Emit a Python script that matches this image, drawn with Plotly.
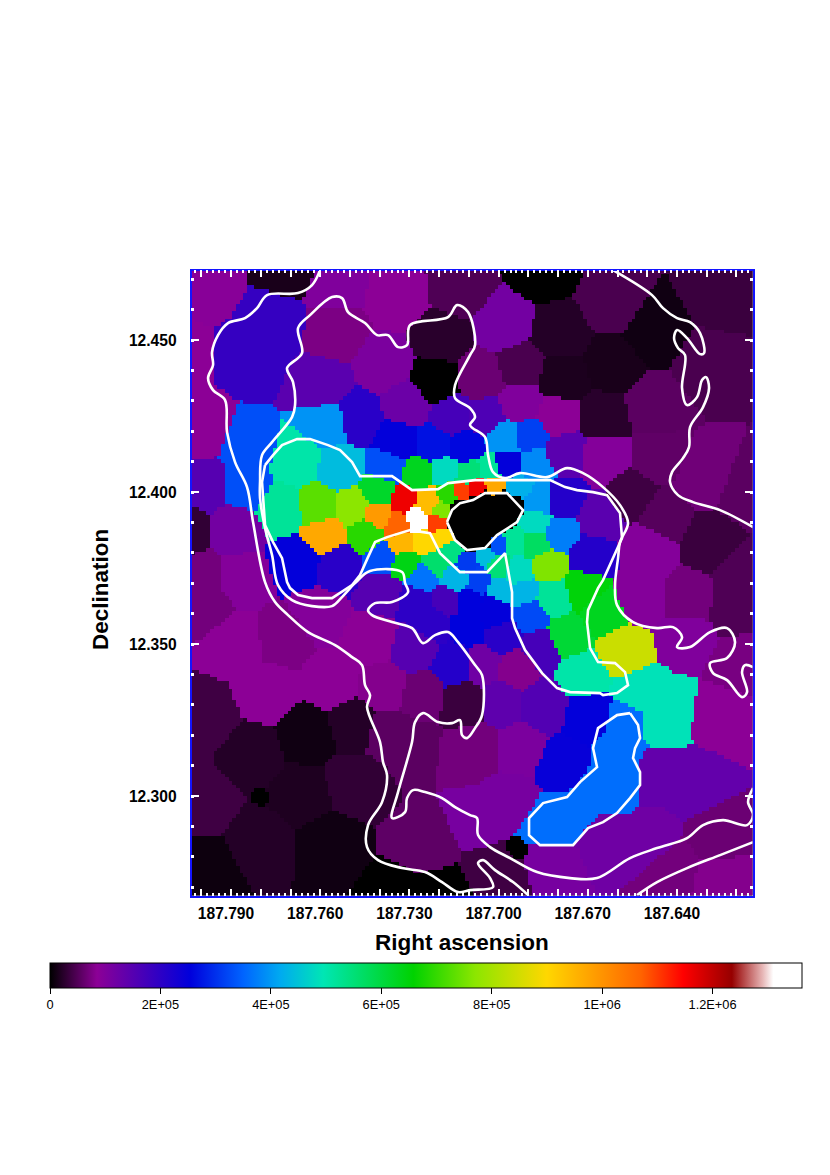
import numpy as np
import plotly.graph_objects as go

# World-coordinate solution of the map: sky = reference value + (map position - reference position) * scale
RA_REF, RA_REF_POS, RA_PER_UNIT = 187.79, 231.0, 1 / 2973.0
DEC_REF, DEC_REF_POS, DEC_PER_UNIT = 12.45, 340.0, 1 / 3040.0
RA_RANGE = [187.8033, 187.6146]
DEC_RANGE = [12.2673, 12.4729]
CELL = 3.7

# Binned cells: (map x, map y, flux)
cells_nw = [
    (205,280,9.0e4),(171,355,8.5e4),(200,432,8.5e4),(255,355,1.9e5),(275,322,1.9e5),(248,450,3.3e5),(245,485,3.3e5),(328,425,3.95e5),(290,268,1.5e4),
    (335,285,1.0e5),(398,298,8.5e4),(460,290,4.8e4),(335,332,7.5e4),(385,365,1.05e5),(322,385,1.45e5),
    (358,420,2.05e5),(408,405,1.25e5),(452,418,1.7e5),(435,382,0),(442,338,2.5e4),(398,442,2.5e5),
    (435,445,2.7e5),(465,448,2.6e5),(205,485,1.5e5),(185,530,3.0e4),(235,530,1.15e5),(202,578,7.0e4),(242,578,9.5e4),
]
cells_ne = [
    (503,325,1.15e5),(543,268,0),(560,335,2.2e4),(613,305,4.5e4),(653,332,1.0e4),(613,365,1.5e4),(563,378,1.7e4),
    (520,368,4.5e4),(603,418,2.5e4),(483,378,6.5e4),(520,405,1.0e5),(487,418,1.6e5),(557,418,8.5e4),(565,452,1.45e5),
    (603,458,9.5e4),(505,438,3.95e5),(530,435,3.15e5),(505,465,2.5e5),(533,465,3.85e5),(563,502,2.1e5),(598,518,1.45e5),
    (647,548,9.5e4),(633,495,3.8e4),(657,458,5.8e4),(653,408,5.5e4),(663,515,5.2e4),(703,478,6.8e4),(710,365,4.5e4),
    (723,295,3.5e4),(713,542,3.5e4),(747,495,5.5e4),(743,572,4.8e4),(640,598,9.5e4),(690,602,7.0e4),(733,608,4.8e4),
]
cells_core = [
    (298,462,5.05e5),(340,468,4.4e5),(283,508,5.2e5),(318,507,7.3e5),(353,508,7.7e5),(380,492,6.2e5),(325,535,9.7e5),
    (380,515,9.9e5),(367,535,6.9e5),(403,500,1.16e6),(398,525,1.07e6),(428,502,9.4e5),(418,520,1.33e6),(437,522,1.1e6),
    (448,495,6.9e5),(443,510,7.6e5),(463,492,1.1e6),(477,489,1.16e6),(495,487,9.7e5),(402,543,9.5e5),(425,542,9.0e5),
    (442,537,9.0e5),(452,552,5.4e5),(405,562,6.4e5),(437,563,5.6e5),(382,558,3.3e5),(298,562,2.5e5),(340,565,2.05e5),
    (388,468,3.3e5),(418,475,6.3e5),(445,472,4.8e5),(468,475,5.5e5),(492,470,5.2e5),
    (467,562,3.1e5),(487,557,4.4e5),(498,545,3.3e5),(497,566,5.5e5),(423,578,3.65e5),(455,578,4.3e5),(480,580,3.15e5),
    (500,590,4.35e5),(417,600,2.0e5),(445,600,1.7e5),(470,603,2.55e5),(493,607,2.5e5),
    (517,488,4.25e5),(538,502,4.0e5),(560,533,3.75e5),(590,555,2.1e5),(535,522,4.8e5),(535,543,5.7e5),(513,542,5.2e5),
    (547,565,7.6e5),(518,572,4.8e5),(583,590,6.5e5),(603,612,6.3e5),(567,635,6.1e5),(553,598,5.2e5),(523,592,4.3e5),
    (622,650,8.4e5),(583,675,5.05e5),
]
cells_nucleus = [
    (457,522,0),(461,510,0),(467,538,0),(485,539,0),(473,506,0),(486,499,0),(500,499,0),(512,505,0),(499,522,0),
    (490,528,0),(480,520,0),
]
cells_sw = [
    (205,605,7.0e4),(235,642,8.5e4),(285,638,7.5e4),(318,615,9.5e4),(268,692,8.5e4),(332,682,8.5e4),(372,638,8.5e4),
    (385,688,8.0e4),(422,695,6.5e4),(465,702,3.5e4),(415,648,1.5e5),(383,592,1.5e5),(432,622,2.0e5),(468,625,2.55e5),
    (455,665,2.1e5),(205,718,3.8e4),(202,800,3.8e4),(308,735,1.0e4),(252,755,2.2e4),(355,725,2.2e4),(302,795,1.8e4),
    (355,782,3.0e4),(262,842,2.2e4),(205,872,8.0e3),(328,845,1.0e4),(440,897,0),(400,897,0),(412,745,5.5e4),(425,845,5.7e4),
    (468,752,7.0e4),(388,732,5.5e4),
]
cells_se = [
    (495,615,2.5e5),(530,615,3.25e5),(503,635,2.05e5),(540,648,1.7e5),(483,665,1.2e5),(517,668,8.0e4),(500,702,1.4e5),
    (543,705,1.55e5),(477,748,7.0e4),(520,748,1.05e5),(510,800,1.1e5),(590,715,2.5e5),(563,765,2.45e5),
    (627,722,3.6e5),(622,745,3.6e5),(620,770,3.6e5),(600,792,3.6e5),(575,815,3.6e5),(553,832,3.6e5),(548,825,3.6e5),
    (640,695,4.9e5),(665,710,4.9e5),(660,722,4.9e5),(687,635,1.0e5),(723,718,8.5e4),
    (743,662,7.3e4),(660,770,1.35e5),(693,782,1.35e5),(603,838,1.2e5),(650,845,1.2e5),(553,858,1.1e5),(670,868,7.0e4),(720,838,6.5e4),(723,878,8.0e4),
    (497,872,3.8e4),(480,818,1.1e5),
]
# Compact cells: (map x, map y, flux, relative size)
cells_compact = [(261,797,0,0.25),(517,850,0,0.4)]

# Surface-brightness contours: map positions
contour_west = [
    (320,270),(312,285),(298,293),(267,295),(257,308),(245,318),(228,323),(218,335),(212,352),(213,365),(208,378),
    (213,390),(225,400),(227,432),(235,462),(247,487),(253,522),(265,582),(275,602),(288,615),(308,632),(335,645),
    (352,657),(362,665),(365,685),(370,695),(367,707),(380,742),(383,762),(387,775),(382,802),(368,825),(367,847),
    (378,860),(402,868),(425,872),(442,882),(458,892),(470,890),(493,887),(490,878),(478,863),(483,860),(495,870),
    (513,882),(528,895),
]
contour_long = [
    (753,788),(748,802),(753,815),(747,825),(723,820),(703,825),(687,838),(657,848),(630,858),(597,878),(570,878),
    (537,872),(510,858),(490,847),(478,835),(477,818),(470,815),(455,807),(442,798),(425,792),(413,790),(407,798),
    (405,812),(392,818),(398,792),(412,742),(415,722),(423,713),(438,722),(452,723),(460,720),(462,735),(467,738),
    (475,728),(482,715),(482,675),(475,665),(458,642),(448,632),(435,635),(423,643),(412,628),(392,622),(372,615),
    (368,610),(375,603),(392,602),(408,592),(405,583),(402,572),(370,571),(355,583),(342,597),(332,606),(312,606),
    (292,600),(278,585),(272,555),(265,528),(260,498),(260,482),(262,455),(272,442),(292,417),(295,405),(293,382),
    (287,368),(302,353),(298,328),(310,315),(332,297),(342,298),(348,312),(365,323),(377,335),(388,335),(398,347),
    (407,345),(410,325),(448,317),(457,305),(468,312),(475,345),(470,355),(455,385),(455,398),(470,408),(475,417),
    (470,425),(485,437),(488,455),(493,472),(505,478),(520,473),(547,477),(567,468),(583,473),(603,487),(620,505),
    (628,523),(620,542),(618,558),(615,585),(617,605),(633,622),(657,628),(673,627),(682,637),(677,647),(690,647),
    (710,632),(727,628),(735,642),(727,658),(710,663),(713,673),(727,680),(742,697),(747,692),(742,672),(745,665),(753,667),
]
contour_south = [(753,842),(720,855),(687,868),(657,882),(637,895)]
contour_east = [
    (613,270),(652,295),(663,308),(677,318),(690,322),(700,333),(704,353),(700,354),(687,338),(677,330),(674,338),
    (678,348),(685,355),(682,388),(687,405),(697,397),(702,380),(706,377),(709,388),(703,407),(690,427),(689,447),
    (683,458),(672,472),(670,482),(678,495),(693,502),(720,510),(753,527),
]
contour_core = [
    (265,465),(273,455),(282,445),(297,439),(310,439),(328,445),(340,450),(352,462),(360,476),(392,476),(412,490),
    (438,489),(448,483),(475,480),(550,480),(565,487),(577,490),(593,492),(607,495),(620,513),(622,538),(613,558),
    (603,580),(598,588),(588,610),(587,622),(590,648),(598,662),(615,663),(625,672),(628,685),(617,693),(603,695),
    (600,693),(570,692),(557,688),(542,673),(525,650),(515,628),(512,618),(512,592),(505,553),(487,572),(460,572),
    (440,553),(430,533),(410,530),(387,537),(375,542),(368,557),(360,575),(352,585),(332,598),(312,598),(298,595),
    (290,588),(287,582),(282,558),(273,542),(265,525),(263,498),(262,482),(265,465),
]
contour_nucleus = [
    (447,522),(452,510),(460,503),(473,500),(485,493),(507,493),(523,510),(517,522),(497,535),(485,548),(467,550),
    (455,540),(447,522),
]
contour_southblob = [
    (630,713),(638,725),(640,738),(635,748),(633,758),(640,772),(640,785),(630,798),(617,813),(603,822),(588,828),
    (573,845),(540,845),(529,835),(529,818),(543,803),(567,797),(580,782),(597,767),(593,748),(598,728),(617,715),(630,713),
]

# Axes and colour bar
ra_major = [187.80, 187.79, 187.78, 187.77, 187.76, 187.75, 187.74, 187.73, 187.72, 187.71, 187.70,
            187.69, 187.68, 187.67, 187.66, 187.65, 187.64, 187.63, 187.62]
ra_labels = ["", "187.790", "", "", "187.760", "", "", "187.730", "", "", "187.700",
             "", "", "187.670", "", "", "187.640", "", ""]
dec_major = [12.30, 12.35, 12.40, 12.45]
dec_labels = ["12.300", "12.350", "12.400", "12.450"]
bar_ticks = [0, 2e5, 4e5, 6e5, 8e5, 1e6, 1.2e6]
bar_labels = ["0", "2E+05", "4E+05", "6E+05", "8E+05", "1E+06", "1.2E+06"]
FLUX_MAX = 1.362e6
colour_stops = [
    (0, "#000000"), (8.5e4, "#8c0096"), (2.54e5, "#0000dc"), (3.5e5, "#0064ff"), (4.17e5, "#00aaf0"),
    (4.95e5, "#00e6b4"), (6.58e5, "#00d200"), (7.7e5, "#8ce600"), (9.0e5, "#ffd700"), (1.07e6, "#ff6400"),
    (1.147e6, "#ff0000"), (1.235e6, "#960000"), (1.29e6, "#e6b4b4"), (1.31e6, "#ffffff"), (FLUX_MAX, "#ffffff"),
]


def ra_of(x):
    return RA_REF - (np.asarray(x, float) - RA_REF_POS) * RA_PER_UNIT


def dec_of(y):
    return DEC_REF - (np.asarray(y, float) - DEC_REF_POS) * DEC_PER_UNIT


regular = cells_nw + cells_ne + cells_core + cells_nucleus + cells_sw + cells_se
seeds = [(a, b, v, 1.0) for a, b, v in regular] + cells_compact
sx, sy, sv, sw = map(np.array, zip(*seeds))

gx = np.arange(191.5 + CELL / 2, 753, CELL)
gy = np.arange(270.5 + CELL / 2, 896, CELL)
mx, my = np.meshgrid(gx, gy)
dist = np.sqrt((mx[..., None] - sx) ** 2 + (my[..., None] - sy) ** 2) / sw
flux = sv[np.argmin(dist, axis=-1)]

fig = go.Figure()
fig.add_trace(go.Heatmap(
    x=ra_of(gx), y=dec_of(gy), z=flux, zmin=0, zmax=FLUX_MAX, hoverinfo="skip",
    colorscale=[[v / FLUX_MAX, c] for v, c in colour_stops],
    colorbar=dict(
        orientation="h", thicknessmode="pixels", thickness=25, lenmode="pixels", len=752,
        x=50 / 830, xanchor="left", y=1 - 963 / 1175, yanchor="top", xpad=0, ypad=0,
        outlinecolor="black", outlinewidth=1, ticks="outside", ticklen=6, tickcolor="black",
        tickmode="array", tickvals=bar_ticks, ticktext=bar_labels,
        tickfont=dict(family="Liberation Sans", size=12.8, color="black"),
    ),
))
for line, shape in [(contour_west, "spline"), (contour_long, "spline"), (contour_south, "spline"),
                    (contour_east, "spline"), (contour_core, "linear"), (contour_nucleus, "linear"),
                    (contour_southblob, "linear")]:
    lx, ly = zip(*line)
    fig.add_trace(go.Scatter(
        x=ra_of(lx), y=dec_of(ly), mode="lines", hoverinfo="skip", showlegend=False,
        line=dict(color="white", width=2.6, shape=shape, smoothing=1.0),
    ))

tick_font = dict(family="Liberation Sans", size=15.6, color="black", weight="bold")
title_font = dict(family="Liberation Sans", size=22.5, color="black", weight="bold")
fig.update_layout(
    width=830, height=1175, margin=dict(l=0, r=0, t=0, b=0, autoexpand=False),
    paper_bgcolor="white", plot_bgcolor="black", showlegend=False,
    xaxis=dict(
        domain=[191.5 / 830, 752.5 / 830], range=RA_RANGE, autorange=False, showgrid=False, zeroline=False,
        showline=True, linecolor="#1414ff", linewidth=1.5, mirror="ticks", layer="above traces",
        tickmode="array", tickvals=ra_major, ticktext=ra_labels, ticks="inside", ticklen=7, tickwidth=1.5,
        tickcolor="white", tickfont=tick_font, ticklabelshift=5, ticklabelstandoff=3,
        minor=dict(tickmode="linear", tick0=187.79, dtick=0.002, ticks="inside", ticklen=3, tickwidth=2, tickcolor="white", showgrid=False),
    ),
    yaxis=dict(
        domain=[1 - 895.5 / 1175, 1 - 270.5 / 1175], range=DEC_RANGE, autorange=False, showgrid=False, zeroline=False,
        showline=True, linecolor="#1414ff", linewidth=1.5, mirror="ticks", layer="above traces",
        tickmode="array", tickvals=dec_major, ticktext=dec_labels, ticks="inside", ticklen=8, tickwidth=2,
        tickcolor="white", tickfont=tick_font, ticklabelstandoff=10,
        minor=dict(tickmode="linear", tick0=12.30, dtick=0.01, ticks="inside", ticklen=3, tickwidth=3, tickcolor="white", showgrid=False),
    ),
    annotations=[
        dict(text="Right ascension", xref="paper", yref="paper", x=462 / 830, y=1 - 942 / 1175,
             showarrow=False, font=title_font, xanchor="center", yanchor="middle"),
        dict(text="Declination", xref="paper", yref="paper", x=101 / 830, y=1 - 590 / 1175,
             showarrow=False, font=title_font, textangle=-90, xanchor="center", yanchor="middle"),
    ],
)
fig.write_html("out.html", config={"displayModeBar": False}, post_script="document.body.style.margin='0';")
